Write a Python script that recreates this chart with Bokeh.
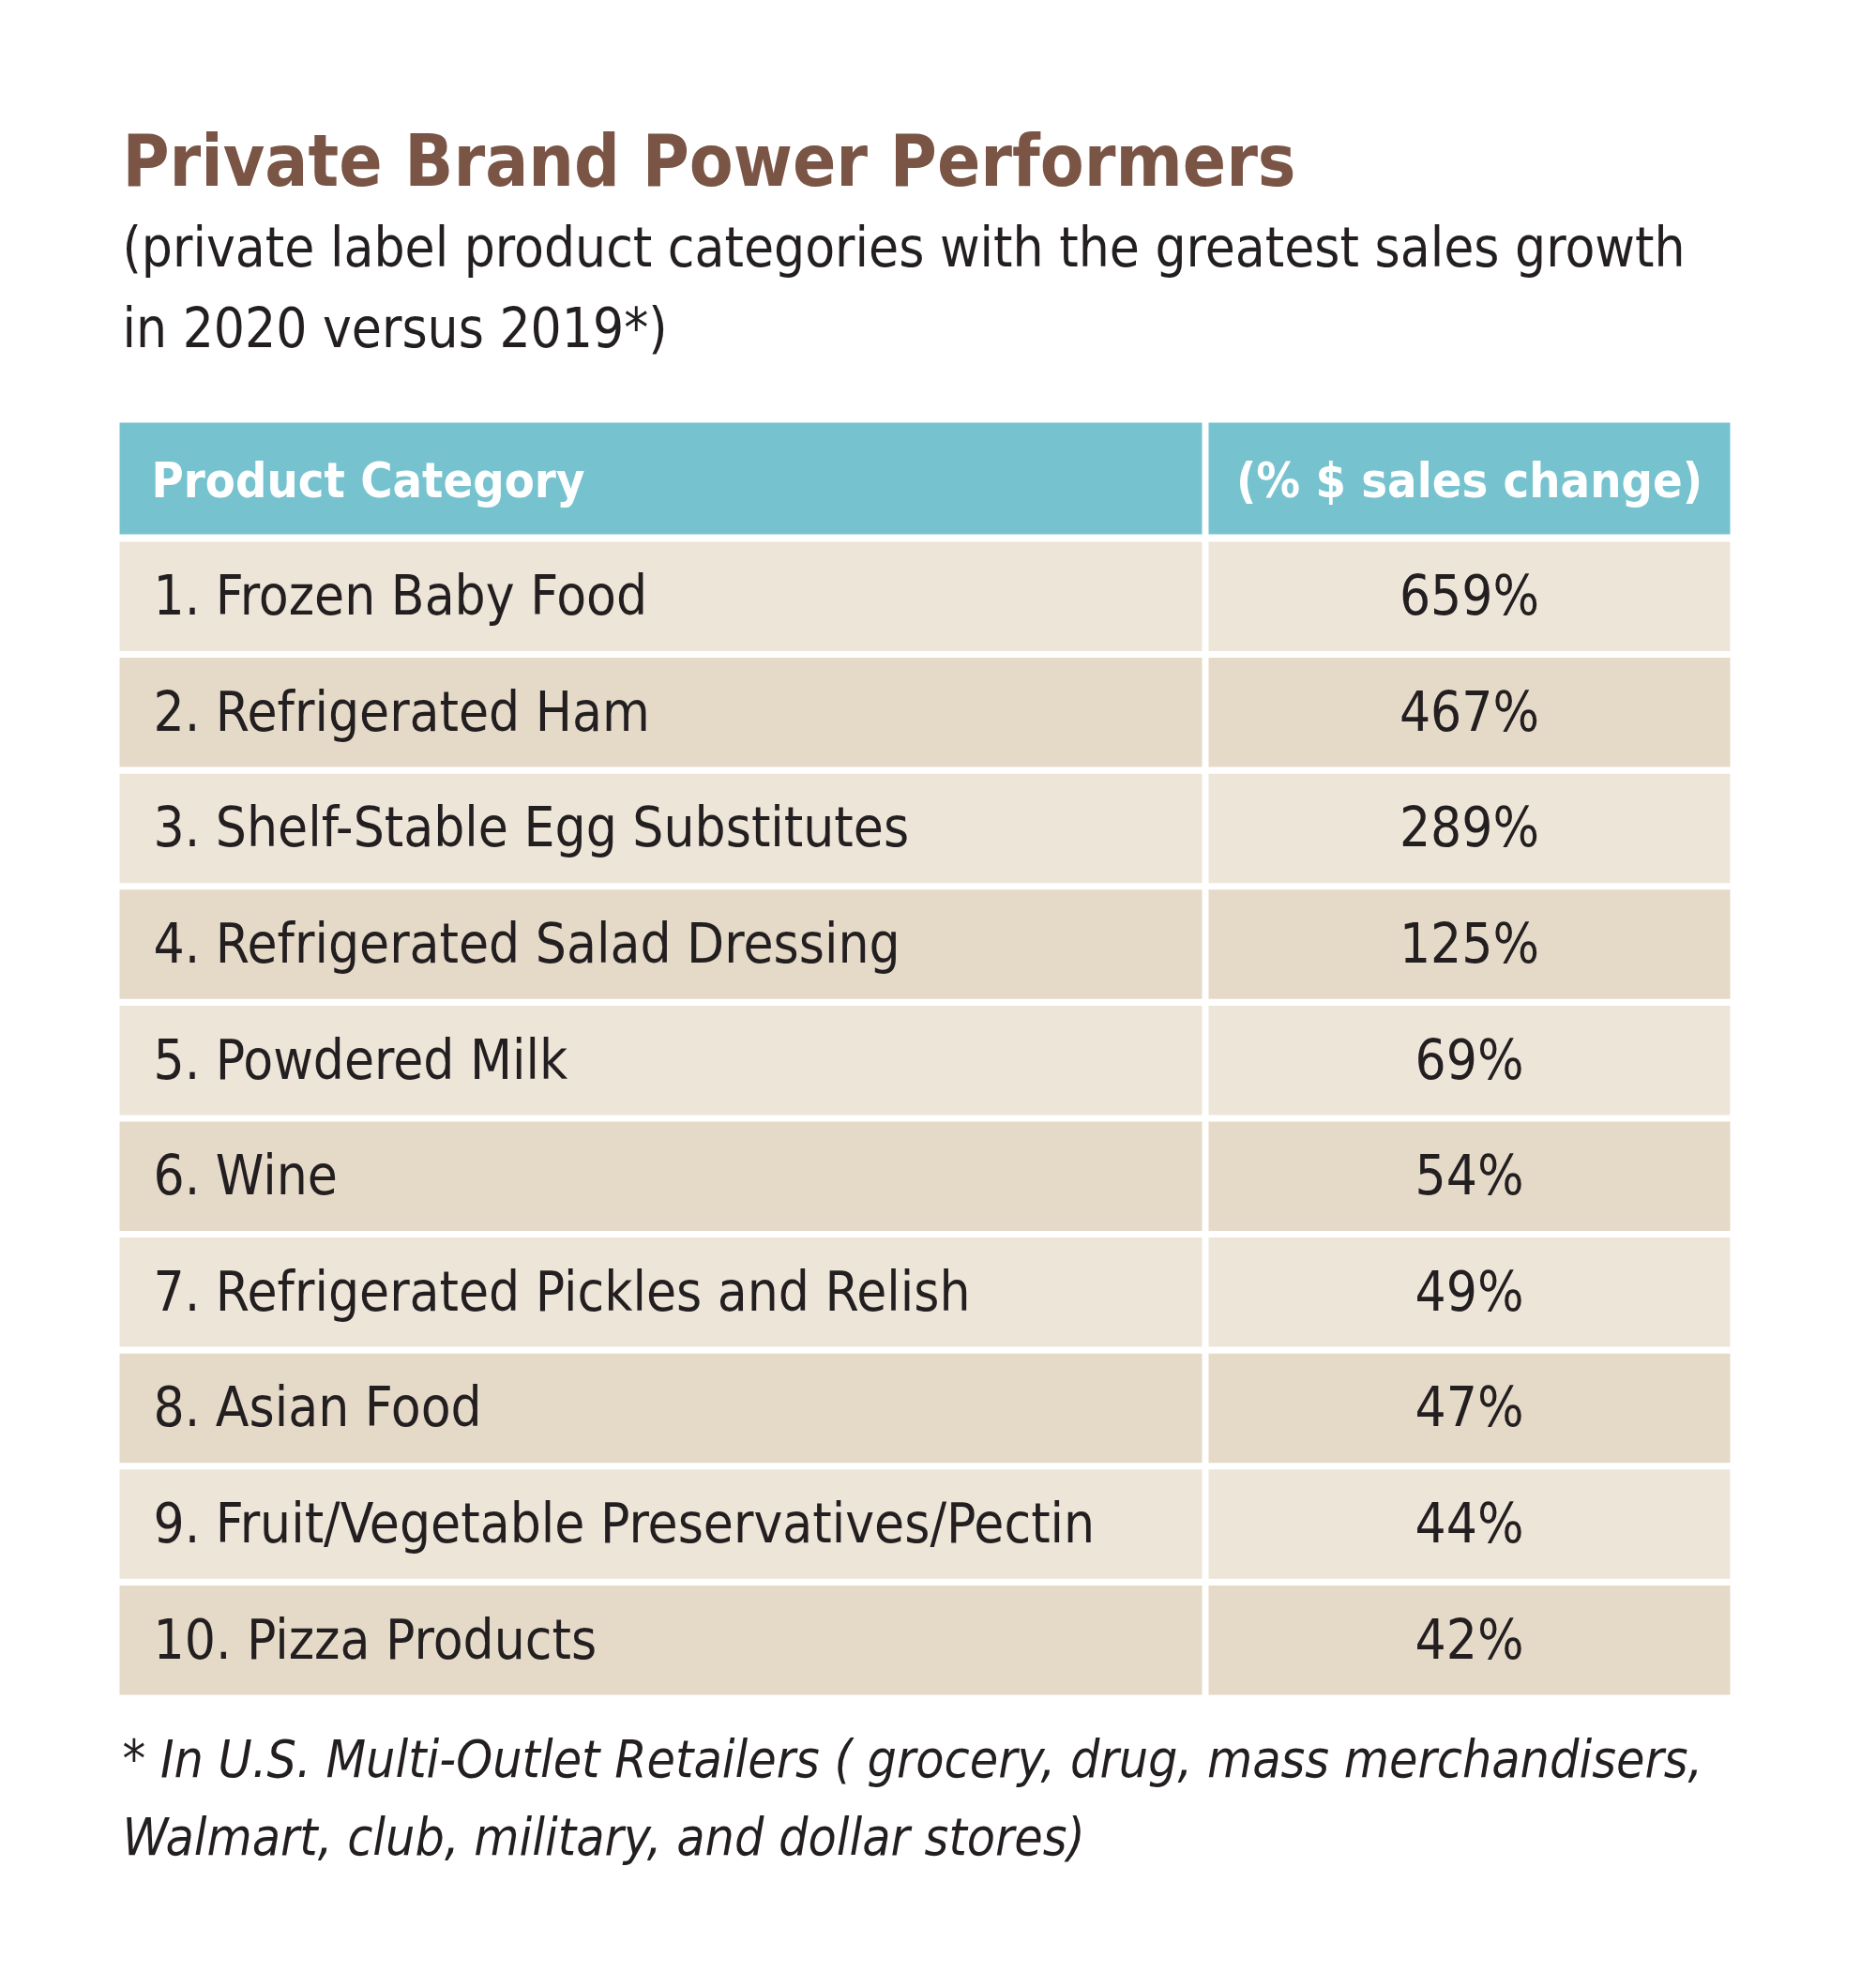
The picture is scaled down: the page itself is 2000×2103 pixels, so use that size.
from bokeh.plotting import figure
from bokeh.models import ColumnDataSource, Range1d
from bokeh.core.properties import value
from bokeh.embed import file_html
from bokeh.resources import INLINE

# ---- data ----
title = "Private Brand Power Performers"
subtitle_lines = [
    "(private label product categories with the greatest sales growth",
    "in 2020 versus 2019*)",
]
header_labels = ["Product Category", "(% $ sales change)"]
categories = [
    "Frozen Baby Food",
    "Refrigerated Ham",
    "Shelf-Stable Egg Substitutes",
    "Refrigerated Salad Dressing",
    "Powdered Milk",
    "Wine",
    "Refrigerated Pickles and Relish",
    "Asian Food",
    "Fruit/Vegetable Preservatives/Pectin",
    "Pizza Products",
]
sales_change_pct = [659, 467, 289, 125, 69, 54, 49, 47, 44, 42]
footnote_lines = [
    "* In U.S. Multi-Outlet Retailers ( grocery, drug, mass merchandisers,",
    "Walmart, club, military, and dollar stores)",
]

# ---- layout / style ----
FONT = "DejaVu Sans Condensed, Roboto, sans-serif"
W, H = 1984, 2087
LEFT, SPLIT_L, SPLIT_R, RIGHT = 127, 1281, 1288, 1844
HEAD_TOP, HEAD_BOT = 450, 569
ROW_TOP0, ROW_PITCH, ROW_H = 577, 123.6, 116.5
K = 0.375          # renderer baseline correction (fraction of font size)
CAPR = 0.73        # cap height / font size
S_TITLE, S_SUB, S_HEAD, S_ROW, S_FOOT = 76, 58, 52, 58, 55
TEAL = "#76c3cf"
LIGHT = "#eee5d9"
DARK = "#e5d9c8"
BROWN = "#7a5444"
INK = "#231f20"


def base(y, size):
    return y - K * size


p = figure(width=W, height=H, x_range=Range1d(0, W), y_range=Range1d(H, 0),
           toolbar_location=None, output_backend="svg", min_border=0,
           x_axis_location=None, y_axis_location=None)
p.outline_line_color = None
p.xgrid.visible = False
p.ygrid.visible = False
p.background_fill_color = "white"
p.border_fill_color = "white"

# header cells
p.quad(left=[LEFT, SPLIT_R], right=[SPLIT_L, RIGHT], top=[HEAD_TOP, HEAD_TOP],
       bottom=[HEAD_BOT, HEAD_BOT], fill_color=TEAL, line_color=None)

# body cells
n = len(categories)
tops = [ROW_TOP0 + i * ROW_PITCH for i in range(n)]
bots = [t + ROW_H for t in tops]
colors = [LIGHT if i % 2 == 0 else DARK for i in range(n)]
cells = ColumnDataSource(dict(
    left=[LEFT] * n + [SPLIT_R] * n,
    right=[SPLIT_L] * n + [RIGHT] * n,
    top=tops + tops,
    bottom=bots + bots,
    color=colors + colors,
))
p.quad(left="left", right="right", top="top", bottom="bottom",
       fill_color="color", line_color=None, source=cells)

# title & subtitle
p.text(x=[130], y=[base(199, S_TITLE)], text=[title], text_font=value(FONT),
       text_font_style="bold", text_font_size=f"{S_TITLE}px", text_color=BROWN,
       text_baseline="alphabetic")
p.text(x=[130, 130], y=[base(285, S_SUB), base(371, S_SUB)], text=subtitle_lines,
       text_font=value(FONT), text_font_size=f"{S_SUB}px", text_color=INK,
       text_baseline="alphabetic")

# header labels
mid_right = (SPLIT_R + RIGHT) / 2
head_base = base(512 + CAPR * S_HEAD / 2, S_HEAD)
p.text(x=[161], y=[head_base], text=[header_labels[0]], text_font=value(FONT),
       text_font_style="bold", text_font_size=f"{S_HEAD}px", text_color="white",
       text_baseline="alphabetic", text_align="left")
p.text(x=[mid_right], y=[head_base], text=[header_labels[1]], text_font=value(FONT),
       text_font_style="bold", text_font_size=f"{S_HEAD}px", text_color="white",
       text_baseline="alphabetic", text_align="center")

# row labels
bases = [base(t + ROW_H / 2 + CAPR * S_ROW / 2, S_ROW) for t in tops]
rows = ColumnDataSource(dict(
    y=bases,
    label=[f"{i + 1}. {c}" for i, c in enumerate(categories)],
    val=[f"{v}%" for v in sales_change_pct],
))
p.text(x=163, y="y", text="label", source=rows, text_font=value(FONT),
       text_font_size=f"{S_ROW}px", text_color=INK, text_baseline="alphabetic",
       text_align="left")
p.text(x=mid_right, y="y", text="val", source=rows, text_font=value(FONT),
       text_font_size=f"{S_ROW}px", text_color=INK, text_baseline="alphabetic",
       text_align="center")

# footnote
p.text(x=[130, 130], y=[base(1895, S_FOOT), base(1978, S_FOOT)], text=footnote_lines,
       text_font=value(FONT), text_font_style="italic", text_font_size=f"{S_FOOT}px",
       text_color=INK, text_baseline="alphabetic")

open("out.html", "w").write(file_html(p, INLINE))
